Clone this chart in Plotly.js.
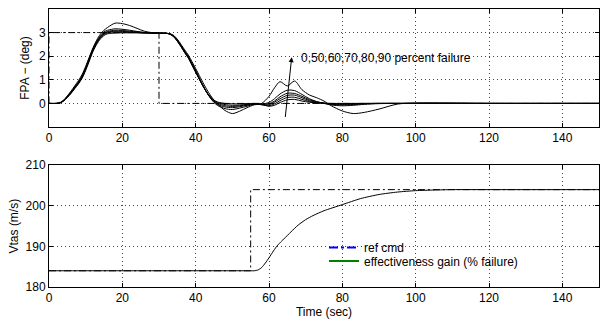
<!DOCTYPE html>
<html>
<head>
<meta charset="utf-8">
<script src="https://cdn.plot.ly/plotly-3.0.1.min.js"></script>
<style>html,body{margin:0;padding:0;background:#fff;}#chart{width:601px;height:320px;}</style>
</head>
<body>
<div id="chart"></div>
<script>
// ---- Top panel: flight path angle (deg) ----
const timeFPA = [0,2,3,4,5,6,7,8,9,10, 11,12,13,14,15,16,18,20,22,24, 26,28,30,32,33,34,35,36,37,38,
  39,40,41,42,43,44,45,46,48,50, 52,54,56,58,60,61.5,63,65,67,69, 71,73,75,77,80,83,86,90,95,100, 110,120,150];
const fpa0 = [0,0,0.02,0.1,0.25,0.42,0.62,0.82,1.06,1.4, 1.8,2.2,2.5,2.73,2.88,2.95,2.98,2.99,2.99,2.99,
  2.98,2.98,2.97,2.97,2.93,2.82,2.63,2.4,2.15,1.92, 1.62,1.32,1.02,0.73,0.48,0.28,0.14,0.06,0.0,-0.02,
  -0.02,-0.01,0.0,-0.04,-0.12,-0.08,0.04,0.15,0.17,0.1, 0.05,0.02,0.01,0,0,0,0,0,0,0, 0,0,0];
const fpa50 = [0,0,0.02,0.11,0.26,0.44,0.64,0.84,1.08,1.43, 1.83,2.23,2.54,2.77,2.92,2.99,3.03,3.02,3.01,3.0,
  2.99,2.98,2.97,2.97,2.93,2.83,2.64,2.41,2.16,1.93, 1.63,1.33,1.03,0.74,0.48,0.27,0.12,0.03,-0.05,-0.08,
  -0.07,-0.04,-0.01,-0.06,-0.1,-0.02,0.12,0.25,0.26,0.17, 0.08,0.03,0.0,-0.02,-0.02,-0.01,0,0,0,0, 0,0,0];
const fpa60 = [0,0,0.02,0.12,0.27,0.45,0.66,0.86,1.1,1.46, 1.86,2.26,2.57,2.8,2.95,3.02,3.06,3.05,3.03,3.01,
  2.99,2.98,2.97,2.97,2.94,2.84,2.66,2.43,2.18,1.95, 1.65,1.35,1.04,0.74,0.47,0.25,0.09,-0.01,-0.1,-0.13,
  -0.1,-0.06,-0.02,-0.05,-0.06,0.05,0.2,0.34,0.35,0.24, 0.12,0.05,0.01,-0.03,-0.04,-0.03,-0.01,0,0,0, 0,0,0];
const fpa70 = [0,0,0.03,0.12,0.28,0.47,0.68,0.88,1.13,1.49, 1.89,2.29,2.6,2.83,2.98,3.05,3.1,3.09,3.06,3.03,
  3.0,2.99,2.98,2.97,2.94,2.85,2.67,2.44,2.2,1.97, 1.67,1.37,1.05,0.75,0.47,0.24,0.07,-0.05,-0.15,-0.18,
  -0.14,-0.08,-0.03,-0.04,-0.02,0.1,0.28,0.43,0.42,0.3, 0.16,0.07,0.01,-0.04,-0.06,-0.05,-0.02,0,0,0, 0,0,0];
const fpa80 = [0,0,0.03,0.13,0.3,0.49,0.7,0.91,1.16,1.52, 1.93,2.32,2.63,2.87,3.03,3.1,3.16,3.14,3.1,3.05,
  3.01,2.99,2.98,2.97,2.95,2.86,2.69,2.46,2.22,1.99, 1.7,1.4,1.08,0.77,0.48,0.23,0.04,-0.09,-0.22,-0.26,
  -0.2,-0.12,-0.04,-0.03,0.04,0.2,0.4,0.56,0.54,0.38, 0.2,0.08,0.0,-0.07,-0.1,-0.08,-0.04,-0.01,0,0, 0,0,0];
const fpa90 = [0,0,0.03,0.14,0.32,0.52,0.74,0.96,1.22,1.57, 1.97,2.36,2.68,2.93,3.1,3.22,3.4,3.38,3.3,3.18,
  3.06,3.0,2.98,2.97,2.95,2.88,2.72,2.5,2.27,2.05, 1.77,1.48,1.18,0.88,0.6,0.35,0.14,-0.03,-0.3,-0.43,
  -0.33,-0.18,-0.06,0.0,0.3,0.66,0.92,0.74,0.95,0.58, 0.36,0.24,0.1,-0.1,-0.32,-0.43,-0.38,-0.24,-0.03,0.02, 0.02,0,0];
const fpaCmdTime = [0,0,30,30,150];
const fpaCmd = [0,3,3,0,0];

// ---- Bottom panel: true airspeed (m/s) ----
const timeV = [0,55,56,57,58,59,60,61,62,63,64,66,68,70,72,75,80,85,90,95,100,105,110,120,150];
const vtas = [184,184,184,184.2,184.8,185.9,187.2,188.6,189.9,190.9,191.8,193.6,195.3,196.6,197.6,198.8,200.3,201.8,202.8,203.4,203.75,203.9,204,204,204];
const vCmdTime = [0,55,55,150];
const vCmd = [184,184,204,204];

const xTicks = [0,20,40,60,80,100,120,140];
const fpaTicks = [0,1,2,3];
const vTicks = [180,190,200,210];
const legendNames = ['ref cmd','effectiveness gain (% failure)'];
const failureLabel = '0,50,60,70,80,90 percent failure';

const FONT = 'Liberation Sans, Arial, Helvetica, sans-serif';
const DASHDOT = '7px,3px,2px,3px';
const GRIDDASH = '1px,3px';

const fpaSeries = [fpa0, fpa50, fpa60, fpa70, fpa80, fpa90];
const traces = [];
fpaSeries.forEach(s => traces.push({
  x: timeFPA, y: s, type: 'scatter', mode: 'lines', xaxis: 'x', yaxis: 'y',
  line: {color: '#000', width: 1, shape: 'spline', smoothing: 0.8}, showlegend: false, hoverinfo: 'skip'
}));
traces.push({x: fpaCmdTime, y: fpaCmd, type: 'scatter', mode: 'lines', xaxis: 'x', yaxis: 'y',
  line: {color: '#000', width: 1, dash: DASHDOT}, showlegend: false});
traces.push({x: vCmdTime, y: vCmd, type: 'scatter', mode: 'lines', xaxis: 'x2', yaxis: 'y2',
  line: {color: '#000', width: 1, dash: DASHDOT}, showlegend: false});
traces.push({x: timeV, y: vtas, type: 'scatter', mode: 'lines', xaxis: 'x2', yaxis: 'y2',
  line: {color: '#000', width: 1, shape: 'spline', smoothing: 0.6}, showlegend: false});
// legend entries
traces.push({x: [null], y: [null], type: 'scatter', mode: 'lines', xaxis: 'x2', yaxis: 'y2',
  name: legendNames[0], legend: 'legend', line: {color: '#0000ff', width: 2, dash: 'dashdot'}});
traces.push({x: [null], y: [null], type: 'scatter', mode: 'lines', xaxis: 'x2', yaxis: 'y2',
  name: legendNames[1], legend: 'legend2', line: {color: '#008000', width: 2}});

function xa(anchor) {
  return {domain: [0,1], anchor: anchor, range: [0,150], tickvals: xTicks,
    showline: true, linecolor: '#000', linewidth: 1, mirror: 'ticks',
    ticks: 'inside', ticklen: 4, tickcolor: '#000',
    showgrid: true, gridcolor: '#444', gridwidth: 1, griddash: GRIDDASH, zeroline: false,
    tickfont: {family: FONT, size: 12, color: '#000'}};
}
function ya(anchor, dom, rng, tv, title, standoff) {
  return {domain: dom, anchor: anchor, range: rng, tickvals: tv,
    showline: true, linecolor: '#000', linewidth: 1, mirror: 'ticks',
    ticks: 'inside', ticklen: 4, tickcolor: '#000',
    showgrid: true, gridcolor: '#444', gridwidth: 1, griddash: GRIDDASH, zeroline: false,
    tickfont: {family: FONT, size: 12, color: '#000'},
    title: {text: title, font: {family: FONT, size: 12, color: '#000'}, standoff: standoff}};
}
const legendBase = {xanchor: 'left', yanchor: 'top', bgcolor: 'rgba(0,0,0,0)',
  font: {family: FONT, size: 12, color: '#000'}, tracegroupgap: 0};
const layout = {
  width: 601, height: 320,
  margin: {l: 49, r: 2, t: 9, b: 33},
  paper_bgcolor: '#fff', plot_bgcolor: '#fff',
  font: {family: FONT, size: 12, color: '#000'},
  showlegend: true,
  legend: Object.assign({x: 0.50, y: 0.194}, legendBase),
  legend2: Object.assign({x: 0.50, y: 0.146}, legendBase),
  xaxis: xa('y'),
  yaxis: ya('x', [0.5755, 1], [-1, 4], fpaTicks, 'FPA \u2212 (deg)', 6),
  xaxis2: Object.assign(xa('y2'), {title: {text: 'Time (sec)', font: {family: FONT, size: 12, color: '#000'}, standoff: 0}}),
  yaxis2: ya('x2', [0, 0.4378], [180, 210], vTicks, 'Vtas (m/s)', 4),
  annotations: [
    {xref: 'x', yref: 'y', x: 66.2, y: 1.96, axref: 'x', ayref: 'y', ax: 64.4, ay: -0.64,
     text: '', showarrow: true, arrowhead: 2, arrowsize: 1, arrowwidth: 1, arrowcolor: '#000'},
    {xref: 'x', yref: 'y', x: 68.3, y: 1.92, xanchor: 'left', yanchor: 'middle', showarrow: false,
     text: failureLabel, font: {family: FONT, size: 12, color: '#000'}}
  ]
};
Plotly.newPlot('chart', traces, layout, {staticPlot: true, displayModeBar: false});
</script>
</body>
</html>
